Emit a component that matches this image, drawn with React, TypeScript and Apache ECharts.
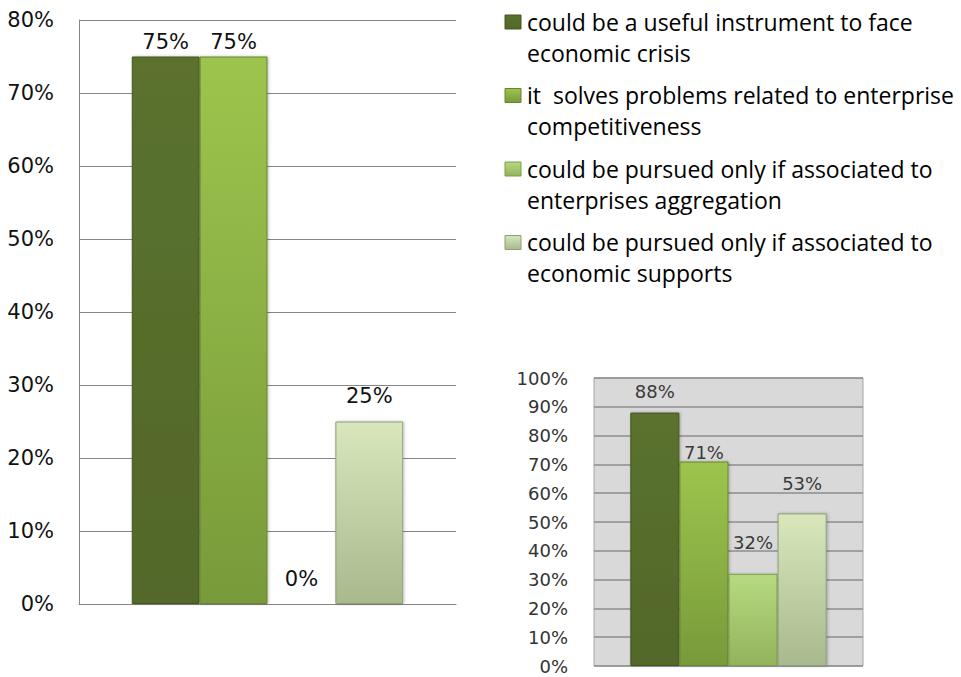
import React, { useEffect, useRef } from "react";
import * as echarts from "echarts";

const seriesNames = [
  "could be a useful instrument to face economic crisis",
  "it  solves problems related to enterprise competitiveness",
  "could be pursued only if associated to enterprises aggregation",
  "could be pursued only if associated to economic supports",
];
const legendLabels = [
  "could be a useful instrument to face\neconomic crisis",
  "it  solves problems related to enterprise\ncompetitiveness",
  "could be pursued only if associated to\nenterprises aggregation",
  "could be pursued only if associated to\neconomic supports",
];
const categories = [""];
const leftValues = [75, 75, 0, 25];
const rightValues = [88, 71, 32, 53];
const leftAxisMax = 80;
const rightAxisMax = 100;
const axisInterval = 10;

// style-only constants
const leftLabelDistance = [4, 4, 15, 15];
const rightLabelDistance = [12, 0, 22, 21];
const barColors: [string, string, string][] = [
  ["#5b722f", "#526829", "#43561f"],
  ["#9dc54d", "#789a3a", "#66852e"],
  ["#b6da7e", "#93b35c", "#7f9c4b"],
  ["#d8e8bc", "#a8b98e", "#8e9e76"],
];

const grad = (c: [string, string, string]) =>
  new echarts.graphic.LinearGradient(0, 0, 0, 1, [
    { offset: 0, color: c[0] },
    { offset: 1, color: c[1] },
  ]);

export default function App() {
  const ref = useRef<HTMLDivElement>(null);
  useEffect(() => {
    if (!ref.current) return;
    const chart = echarts.init(ref.current, null, { renderer: "svg" });
    const series: any[] = [];
    const mk = (vals: number[], i: number) =>
      [
        {
          value: vals[i],
          itemStyle: {
            color: grad(barColors[i]),
            borderColor: barColors[i][2],
            borderWidth: vals[i] === 0 ? 0 : 1,
            shadowColor: "rgba(0,0,0,0.25)",
            shadowBlur: vals[i] === 0 ? 0 : 3,
            shadowOffsetX: 1,
          },
        },
      ];
    seriesNames.forEach((name, i) => {
      series.push({
        type: "bar",
        name,
        xAxisIndex: 0,
        yAxisIndex: 0,
        data: mk(leftValues, i),
        barGap: "0%",
        barCategoryGap: "28%",
        label: {
          show: true,
          position: "top",
          distance: leftLabelDistance[i],
          formatter: "{c}%",
          fontFamily: "DejaVu Sans",
          fontSize: 21,
          color: "#111",
        },
      });
    });
    seriesNames.forEach((name, i) => {
      series.push({
        type: "bar",
        name: name + " ",
        xAxisIndex: 1,
        yAxisIndex: 1,
        data: mk(rightValues, i),
        barGap: "0%",
        barCategoryGap: "27%",
        label: {
          show: true,
          position: "top",
          distance: rightLabelDistance[i],
          formatter: "{c}%",
          fontFamily: "DejaVu Sans",
          fontSize: 18,
          color: "#3a3a3a",
        },
      });
    });

    const graphic: any[] = [];
    legendLabels.forEach((t, i) => {
      const cy = 22 + i * 73.5;
      graphic.push({
        type: "rect",
        shape: { x: 505, y: cy - 7, width: 16, height: 14 },
        style: { fill: grad(barColors[i]), stroke: barColors[i][2], lineWidth: 1 },
      });
      graphic.push({
        type: "text",
        x: 527,
        y: cy - 16,
        style: {
          text: t,
          fontFamily: "Open Sans",
          fontSize: 23,
          lineHeight: 31,
          fill: "#000",
          verticalAlign: "top",
          align: "left",
        },
      });
    });

    chart.setOption({
      animation: false,
      backgroundColor: "#ffffff",
      grid: [
        { left: 79, top: 20, width: 377, height: 584, show: false },
        {
          left: 594,
          top: 378,
          width: 269,
          height: 288,
          show: true,
          backgroundColor: "#d9d9d9",
          borderColor: "#a6a6a6",
          borderWidth: 1,
        },
      ],
      xAxis: [
        {
          type: "category",
          gridIndex: 0,
          data: categories,
          axisLine: { show: true, lineStyle: { color: "#868686", width: 1 } },
          axisTick: { show: false },
          axisLabel: { show: false },
        },
        {
          type: "category",
          gridIndex: 1,
          data: categories,
          axisLine: { show: false },
          axisTick: { show: false },
          axisLabel: { show: false },
        },
      ],
      yAxis: [
        {
          type: "value",
          gridIndex: 0,
          min: 0,
          max: leftAxisMax,
          interval: axisInterval,
          axisLine: { show: true, lineStyle: { color: "#868686", width: 1 } },
          axisTick: { show: false },
          splitLine: { show: true, lineStyle: { color: "#868686", width: 1 } },
          axisLabel: {
            formatter: "{value}%",
            margin: 25,
            fontFamily: "DejaVu Sans",
            fontSize: 21,
            color: "#111",
          },
        },
        {
          type: "value",
          gridIndex: 1,
          min: 0,
          max: rightAxisMax,
          interval: axisInterval,
          axisLine: { show: false },
          axisTick: { show: false },
          splitLine: { show: true, lineStyle: { color: "#8c8c8c", width: 1.5 } },
          axisLabel: {
            formatter: "{value}%",
            margin: 26,
            fontFamily: "DejaVu Sans",
            fontSize: 18,
            color: "#333",
          },
        },
      ],
      series,
      graphic,
    });
    return () => chart.dispose();
  }, []);
  return (
    <div
      ref={ref}
      style={{ position: "absolute", left: 0, top: 0, width: 961, height: 677, background: "#fff" }}
    />
  );
}
